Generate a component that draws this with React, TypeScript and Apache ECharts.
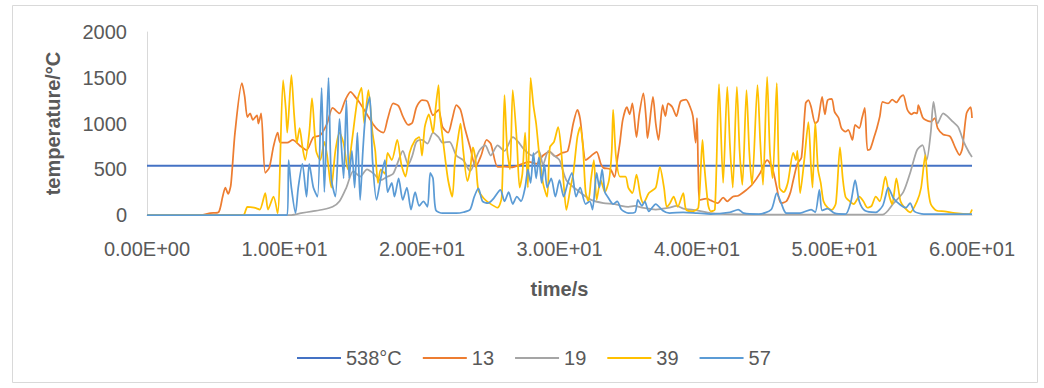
import React, { useEffect, useRef } from "react";
import * as echarts from "echarts";

// x axis (time/s) and y axis (temperature/°C) ticks
const X_MIN = 0;
const X_MAX = 60;
const X_STEP = 10;
const Y_MIN = 0;
const Y_MAX = 2000;
const Y_STEP = 500;

// threshold line
const LIMIT_NAME = "538°C";
const LIMIT_VALUE = 538;

const SERIES_NAMES = ["538°C", "13", "19", "39", "57"];

// [time, temperature] vertices
const s13: [number, number][] = [
  [0, 0], [4, 0], [4.6, 20], [5.2, 30], [5.5, 200], [5.7, 300], [5.9, 230], [6.1, 330], [6.4, 900],
  [6.9, 1440], [7.1, 1300], [7.3, 1070], [7.5, 1110], [7.7, 1040], [8.0, 1090], [8.1, 1000], [8.3, 1110],
  [8.6, 460], [8.9, 520], [9.2, 750], [9.5, 900], [9.7, 790], [10.2, 790], [10.6, 820], [11.1, 760],
  [11.6, 710], [12.1, 850], [12.6, 870], [13.1, 1000], [13.5, 1170], [14.0, 1110], [14.4, 1250],
  [14.8, 1345], [15.2, 1280], [15.5, 1220], [16.0, 1100], [16.5, 980], [16.8, 930], [17.2, 900],
  [17.5, 1050], [17.9, 1220], [18.3, 1190], [18.6, 1080], [19.0, 985], [19.3, 1010], [19.6, 1180],
  [20.0, 1255], [20.4, 1240], [20.8, 1090], [21.2, 1150], [21.5, 960], [21.9, 900], [22.2, 1050],
  [22.5, 1200], [22.8, 1150], [23.1, 960], [23.5, 740], [23.9, 525], [24.3, 650], [24.7, 820],
  [25.0, 780], [25.5, 525], [26.0, 530], [26.5, 520], [27.3, 560], [27.8, 580], [28.3, 560],
  [28.8, 650], [29.3, 690], [29.7, 640], [30.2, 680], [30.6, 700], [31.0, 1000], [31.3, 1150],
  [31.5, 1050], [31.9, 600], [32.1, 620], [32.4, 660], [32.7, 690], [33.0, 560], [33.2, 515],
  [33.7, 500], [34.0, 415], [34.2, 600], [34.4, 800], [34.6, 1040], [34.9, 1180], [35.1, 1100],
  [35.3, 1220], [35.6, 850], [35.8, 1100], [36.1, 1330], [36.3, 1050], [36.4, 840], [36.8, 1290],
  [37.0, 1000], [37.2, 820], [37.5, 1200], [37.7, 1080], [37.9, 1220], [38.2, 1180], [38.5, 1080],
  [38.8, 1240], [39.2, 1260], [39.5, 1180], [39.7, 1080], [39.9, 790], [40.0, 1060], [40.1, 420],
  [40.2, 165], [40.7, 180], [41.0, 160], [41.5, 130], [41.9, 190], [42.2, 150], [42.6, 200],
  [43.0, 210], [43.6, 275], [44.0, 330], [44.6, 460], [44.9, 560], [45.1, 600], [45.5, 500],
  [45.8, 300], [46.1, 130], [46.5, 150], [46.8, 250], [47.0, 380], [47.3, 560], [47.6, 630],
  [47.9, 1220], [48.1, 1255], [48.3, 1180], [48.6, 1000], [48.8, 1030], [49.1, 1290], [49.3, 1100],
  [49.5, 1255], [49.8, 1270], [50.0, 1130], [50.3, 1060], [50.5, 950], [50.8, 910], [51.0, 930],
  [51.3, 820], [51.5, 985], [51.8, 950], [52.0, 1060], [52.2, 1170], [52.4, 710], [52.6, 720],
  [52.9, 860], [53.1, 960], [53.3, 1080], [53.5, 1235], [53.9, 1220], [54.2, 1260], [54.5, 1230],
  [54.8, 1290], [55.0, 1310], [55.3, 1150], [55.6, 1100], [55.8, 1120], [56.0, 1110], [56.1, 1200],
  [56.4, 1070], [56.6, 1040], [57.0, 1020], [57.3, 1060], [57.5, 950], [57.9, 880], [58.4, 860],
  [58.8, 730], [59.1, 655], [59.3, 730], [59.6, 1110], [59.9, 1180], [60, 1060],
];

const s19: [number, number][] = [
  [0, 0], [10.5, 0], [11.2, 20], [12.0, 40], [12.8, 60], [13.5, 90], [14.0, 150], [14.5, 300],
  [15.0, 480], [15.5, 420], [16.0, 500], [16.5, 450], [17.0, 380], [17.5, 420], [17.9, 450],
  [18.3, 600], [18.6, 700], [19.0, 550], [19.3, 650], [19.6, 800], [20.0, 820], [20.4, 780],
  [20.8, 900], [21.2, 850], [21.5, 790], [22.0, 800], [22.5, 650], [23.0, 600], [23.5, 480],
  [24.0, 650], [24.2, 710], [24.6, 760], [25.0, 650], [25.5, 760], [26.0, 700], [26.6, 850],
  [27.0, 800], [27.4, 720], [28.0, 650], [28.5, 700], [28.8, 550], [29.2, 700], [29.6, 650],
  [30.0, 600], [30.5, 380], [31.3, 270], [32.3, 165], [33.2, 130], [34.0, 120], [34.5, 100],
  [35.0, 90], [35.5, 100], [36.0, 80], [37.0, 60], [38.0, 80], [38.5, 100], [39.0, 70], [40.0, 50],
  [41.0, 20], [42, 10], [44, 5], [53.5, 5], [54.3, 130], [55.0, 250], [55.5, 460], [56.0, 710],
  [56.4, 765], [56.7, 600], [57.0, 900], [57.2, 1235], [57.5, 1000], [57.9, 1110], [58.2, 1080],
  [58.6, 1020], [59.0, 960], [59.4, 800], [59.8, 680], [60, 635],
];

const s39: [number, number][] = [
  [0, 0], [7.0, 0], [7.2, 60], [7.3, 90], [7.8, 80], [8.2, 60], [8.6, 240], [8.8, 60], [9.2, 200],
  [9.5, 20], [9.9, 1475], [10.1, 1150], [10.2, 900], [10.5, 1530], [10.7, 1100], [10.9, 790],
  [11.1, 950], [11.3, 750], [11.5, 600], [11.8, 900], [12.0, 1275], [12.3, 700], [12.6, 600],
  [12.9, 800], [13.1, 650], [13.4, 300], [13.7, 700], [14.0, 900], [14.3, 780], [14.6, 500],
  [14.9, 800], [15.3, 1255], [15.6, 1390], [15.8, 1000], [16.1, 1365], [16.4, 900], [16.6, 700],
  [16.8, 350], [17.0, 500], [17.3, 450], [17.5, 680], [17.8, 600], [18.2, 820], [18.5, 550],
  [18.8, 420], [19.1, 680], [19.5, 820], [19.8, 850], [20.0, 650], [20.2, 960], [20.5, 1100],
  [20.8, 900], [21.0, 1180], [21.2, 1420], [21.3, 1100], [21.5, 850], [21.7, 600], [21.9, 380],
  [22.2, 200], [22.4, 600], [22.6, 820], [22.8, 1000], [23.0, 700], [23.3, 370], [23.5, 490],
  [23.7, 740], [23.9, 600], [24.1, 270], [24.5, 180], [24.9, 130], [25.5, 80], [25.8, 200],
  [26.0, 1310], [26.2, 700], [26.4, 500], [26.6, 1365], [26.9, 800], [27.1, 300], [27.3, 450],
  [27.5, 900], [27.7, 300], [27.9, 1500], [28.1, 1200], [28.3, 1000], [28.5, 700], [28.8, 350],
  [29.1, 200], [29.3, 740], [29.6, 800], [29.9, 960], [30.1, 750], [30.3, 350], [30.5, 55],
  [30.8, 300], [31.0, 450], [31.3, 850], [31.5, 960], [31.7, 750], [31.9, 250], [32.1, 150],
  [32.3, 400], [32.5, 600], [32.7, 165], [33.0, 380], [33.3, 250], [33.6, 380], [33.8, 700],
  [33.9, 1150], [34.1, 650], [34.4, 420], [34.8, 420], [35.0, 300], [35.3, 240], [35.6, 440],
  [35.9, 200], [36.1, 130], [36.5, 240], [37.0, 300], [37.3, 525], [37.6, 300], [37.8, 90],
  [38.0, 120], [38.3, 200], [38.6, 90], [39.0, 240], [39.2, 60], [39.7, 40], [40.1, 80],
  [40.4, 820], [40.5, 600], [40.8, 120], [41.0, 40], [41.3, 60], [41.6, 1430], [41.9, 350],
  [42.2, 1400], [42.4, 750], [42.6, 300], [42.9, 1400], [43.1, 700], [43.3, 330], [43.6, 1365],
  [43.8, 700], [44.0, 330], [44.4, 1420], [44.6, 800], [44.8, 330], [45.1, 1510], [45.3, 700],
  [45.5, 400], [45.8, 1440], [46.0, 300], [46.3, 250], [46.6, 350], [47.0, 680], [47.2, 600],
  [47.3, 700], [47.5, 240], [47.8, 600], [48.1, 1015], [48.3, 500], [48.4, 300], [48.6, 1015],
  [48.8, 500], [49.0, 350], [49.2, 150], [49.5, 80], [49.8, 55], [50.1, 130], [50.4, 740],
  [50.6, 400], [50.8, 200], [51.1, 150], [51.4, 120], [51.8, 200], [52.1, 150], [52.4, 80],
  [52.7, 100], [53.0, 200], [53.3, 150], [53.7, 420], [54.0, 200], [54.2, 120], [54.5, 400],
  [54.8, 150], [55.1, 80], [55.5, 30], [56.0, 150], [56.3, 300], [56.6, 655], [56.8, 300],
  [57.0, 120], [57.4, 50], [58, 40], [58.8, 20], [59.8, 10], [60, 60],
];

const s57: [number, number][] = [
  [0, 0], [10.2, 0], [10.3, 600], [10.5, 300], [10.8, 20], [11.0, 300], [11.3, 560], [11.6, 200],
  [11.8, 560], [12.1, 300], [12.4, 200], [12.7, 1390], [12.9, 250], [13.2, 1500], [13.4, 400],
  [13.7, 200], [14.0, 1050], [14.1, 850], [14.3, 400], [14.5, 1255], [14.7, 400], [14.9, 700],
  [15.1, 300], [15.3, 900], [15.5, 165], [15.7, 700], [15.9, 1100], [16.2, 1290], [16.4, 600],
  [16.7, 165], [17.0, 400], [17.3, 600], [17.5, 250], [17.8, 350], [18.0, 200], [18.3, 400],
  [18.6, 165], [18.9, 300], [19.2, 60], [19.5, 250], [19.8, 100], [20.1, 150], [20.4, 90],
  [20.6, 460], [20.8, 400], [21.0, 55], [21.5, 20], [22.5, 20], [23.0, 30], [23.5, 60], [23.8, 200],
  [24.1, 290], [24.4, 150], [24.8, 130], [25.2, 180], [25.7, 275], [26.0, 150], [26.3, 250],
  [26.6, 120], [26.9, 200], [27.2, 150], [27.5, 300], [27.7, 500], [27.9, 350], [28.1, 680],
  [28.3, 400], [28.5, 630], [28.7, 350], [28.9, 550], [29.1, 300], [29.4, 400], [29.7, 200],
  [30.0, 380], [30.3, 200], [30.6, 350], [30.9, 460], [31.2, 200], [31.5, 300], [31.9, 120],
  [32.2, 150], [32.4, 60], [32.7, 460], [32.9, 300], [33.1, 500], [33.3, 250], [33.5, 200],
  [33.9, 120], [34.2, 150], [34.5, 60], [35.0, 20], [35.5, 30], [35.7, 165], [36.0, 100],
  [36.2, 150], [36.5, 40], [37.0, 120], [37.5, 50], [38.0, 20], [39, 30], [40, 20], [41, 10],
  [42.4, 30], [43.0, 60], [43.4, 20], [44.5, 10], [45.4, 60], [45.8, 240], [46.1, 140], [46.5, 20],
  [47.5, 20], [48.3, 60], [48.6, 30], [48.9, 275], [49.1, 50], [49.5, 70], [50.0, 20], [50.8, 10],
  [51.2, 150], [51.5, 380], [51.8, 150], [52.2, 50], [53.0, 30], [53.5, 100], [53.7, 200],
  [53.9, 300], [54.3, 180], [54.8, 110], [55.2, 80], [55.5, 130], [55.8, 40], [56.5, 10], [60, 10],
];

const COLORS = ["#4472C4", "#ED7D31", "#A5A5A5", "#FFC000", "#5B9BD5"];
const FONT = "'Liberation Sans', Arial, sans-serif";
const TEXT = "#595959";

function sci(v: number): string {
  if (v === 0) return "0.00E+00";
  const e = Math.floor(Math.log10(Math.abs(v)));
  const m = v / Math.pow(10, e);
  return m.toFixed(2) + "E" + (e < 0 ? "-" : "+") + String(Math.abs(e)).padStart(2, "0");
}

export default function App() {
  const ref = useRef<HTMLDivElement>(null);
  useEffect(() => {
    document.body.style.margin = "0";
    const chart = echarts.init(ref.current!, null, { renderer: "svg" });
    const lineSeries = (name: string, data: [number, number][], color: string, width: number) => ({
      name,
      type: "line",
      data,
      symbol: "none",
      smooth: 0.25,
      lineStyle: { color, width },
      itemStyle: { color },
    });
    chart.setOption({
      animation: false,
      backgroundColor: "#ffffff",
      color: COLORS,
      graphic: [
        {
          type: "rect",
          shape: { x: 12.5, y: 5.5, width: 1025, height: 377 },
          style: { fill: "none", stroke: "#D9D9D9", lineWidth: 1 },
          silent: true,
        },
      ],
      grid: { left: 147, right: 72, top: 32, bottom: 173 },
      legend: {
        data: SERIES_NAMES.map((name) => ({ name, icon: "rect" })),
        left: 292,
        top: 343,
        itemWidth: 44,
        itemHeight: 2,
        itemGap: 21,
        textStyle: { fontSize: 20, color: TEXT, fontFamily: FONT },
      },
      xAxis: {
        type: "value",
        min: X_MIN,
        max: X_MAX,
        interval: X_STEP,
        name: "time/s",
        nameLocation: "middle",
        nameGap: 64,
        nameTextStyle: { fontSize: 20, fontWeight: "bold", color: TEXT, fontFamily: FONT },
        axisLine: { show: true, lineStyle: { color: "#D9D9D9", width: 1 } },
        axisTick: { show: false },
        splitLine: { show: false },
        axisLabel: { fontSize: 20, color: TEXT, fontFamily: FONT, margin: 24, formatter: sci },
      },
      yAxis: {
        type: "value",
        min: Y_MIN,
        max: Y_MAX,
        interval: Y_STEP,
        name: "temperature/°C",
        nameLocation: "middle",
        nameRotate: 90,
        nameGap: 84,
        nameTextStyle: { fontSize: 20, fontWeight: "bold", color: TEXT, fontFamily: FONT },
        axisLine: { show: true, lineStyle: { color: "#D9D9D9", width: 1 } },
        axisTick: { show: false },
        splitLine: { show: false },
        axisLabel: {
          fontSize: 20,
          color: TEXT,
          fontFamily: FONT,
          margin: 20,
          formatter: (v: number) => String(v),
        },
      },
      series: [
        lineSeries(LIMIT_NAME, [[X_MIN, LIMIT_VALUE], [X_MAX, LIMIT_VALUE]], COLORS[0], 2),
        lineSeries("13", s13, COLORS[1], 1.75),
        lineSeries("19", s19, COLORS[2], 1.75),
        lineSeries("39", s39, COLORS[3], 1.75),
        lineSeries("57", s57, COLORS[4], 1.75),
      ],
    });
    return () => chart.dispose();
  }, []);
  return <div ref={ref} style={{ width: 1044, height: 388 }} />;
}
